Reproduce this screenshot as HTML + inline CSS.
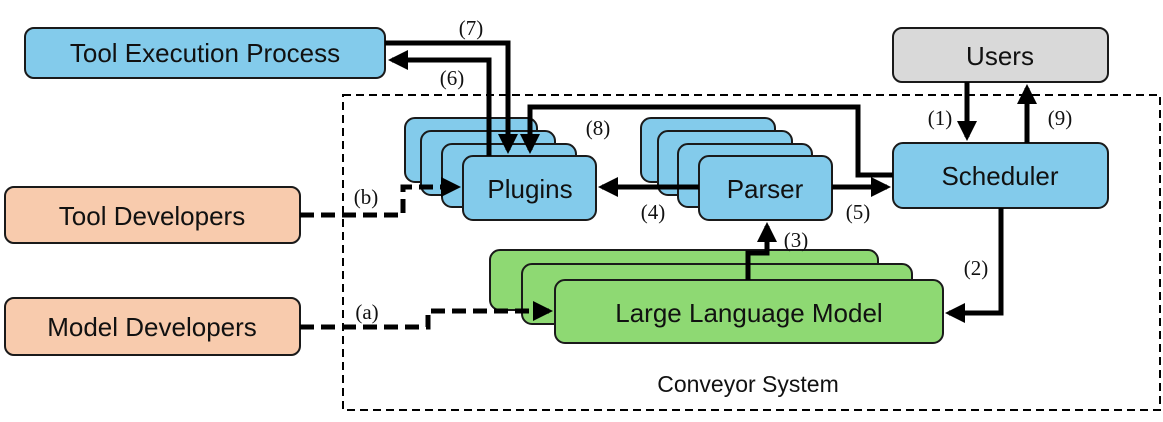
<!DOCTYPE html>
<html><head><meta charset="utf-8"><style>body{margin:0;background:#fff}svg{display:block}</style></head><body>
<svg width="1163" height="422" viewBox="0 0 1163 422" xmlns="http://www.w3.org/2000/svg">
<defs>
<marker id="ah" markerWidth="4" markerHeight="4" refX="3.2" refY="2" orient="auto" markerUnits="strokeWidth"><path d="M0,0 L4,2 L0,4 z" fill="#000"/></marker>
</defs>
<rect x="343" y="95" width="817" height="315" fill="none" stroke="#000" stroke-width="2" stroke-dasharray="8,5"/>
<g stroke="#1a1a1a" stroke-width="2">
<rect x="25" y="28" width="360" height="50" rx="9" fill="#83cbeb"/>
<rect x="893" y="28" width="215" height="54" rx="9" fill="#d9d9d9"/>
<rect x="893" y="143" width="215" height="65" rx="10" fill="#83cbeb"/>
<rect x="5" y="187" width="295" height="56" rx="9" fill="#f8cbad"/>
<rect x="5" y="298" width="295" height="57" rx="9" fill="#f8cbad"/>
<rect x="405" y="118" width="132" height="64" rx="10" fill="#83cbeb"/>
<rect x="421" y="131" width="134" height="64" rx="10" fill="#83cbeb"/>
<rect x="442" y="144" width="134" height="63" rx="10" fill="#83cbeb"/>
<rect x="463" y="156" width="133" height="64" rx="10" fill="#83cbeb"/>
<rect x="641" y="118" width="134" height="64" rx="10" fill="#83cbeb"/>
<rect x="658" y="131" width="134" height="64" rx="10" fill="#83cbeb"/>
<rect x="678" y="144" width="134" height="63" rx="10" fill="#83cbeb"/>
<rect x="699" y="156" width="133" height="64" rx="10" fill="#83cbeb"/>
<rect x="490" y="250" width="388" height="60" rx="10" fill="#8ed973"/>
<rect x="522" y="264" width="390" height="60" rx="10" fill="#8ed973"/>
<rect x="555" y="280" width="388" height="63" rx="10" fill="#8ed973"/>
</g>
<g font-family="Liberation Sans, sans-serif" font-size="26" fill="#111" text-anchor="middle">
<text x="205" y="62">Tool Execution Process</text>
<text x="1000" y="65">Users</text>
<text x="1000" y="185">Scheduler</text>
<text x="152" y="225">Tool Developers</text>
<text x="152" y="336">Model Developers</text>
<text x="530" y="198">Plugins</text>
<text x="765" y="198">Parser</text>
<text x="749" y="322">Large Language Model</text>
<text x="748" y="392" font-size="23">Conveyor System</text>
</g>
<g fill="none" stroke="#000" stroke-width="5">
<polyline points="385,43 508,43 508,150" marker-end="url(#ah)"/>
<polyline points="489,156 489,60 392,60" marker-end="url(#ah)"/>
<polyline points="893,175 858,175 858,107 530,107 530,150" marker-end="url(#ah)"/>
<line x1="699" y1="187" x2="602" y2="187" marker-end="url(#ah)"/>
<line x1="832" y1="187" x2="887" y2="187" marker-end="url(#ah)"/>
<line x1="967" y1="82" x2="967" y2="137" marker-end="url(#ah)"/>
<line x1="1027" y1="143" x2="1027" y2="88" marker-end="url(#ah)"/>
<polyline points="1001,208 1001,313 949,313" marker-end="url(#ah)"/>
<polyline points="748,280 748,253 767,253 767,226" marker-end="url(#ah)"/>
<polyline points="300,215 403,215 403,187 457,187" stroke-dasharray="14,7" marker-end="url(#ah)"/>
<polyline points="300,327 428,327 428,311 549,311" stroke-dasharray="14,7" marker-end="url(#ah)"/>
</g>
<g font-family="Liberation Serif, serif" font-size="21" fill="#111" text-anchor="middle">
<text x="471" y="35">(7)</text>
<text x="452" y="85">(6)</text>
<text x="598" y="135">(8)</text>
<text x="653" y="219">(4)</text>
<text x="858" y="219">(5)</text>
<text x="796" y="247">(3)</text>
<text x="940" y="125">(1)</text>
<text x="1060" y="125">(9)</text>
<text x="976" y="275">(2)</text>
<text x="366" y="204">(b)</text>
<text x="367" y="319">(a)</text>
</g>
</svg>
</body></html>
